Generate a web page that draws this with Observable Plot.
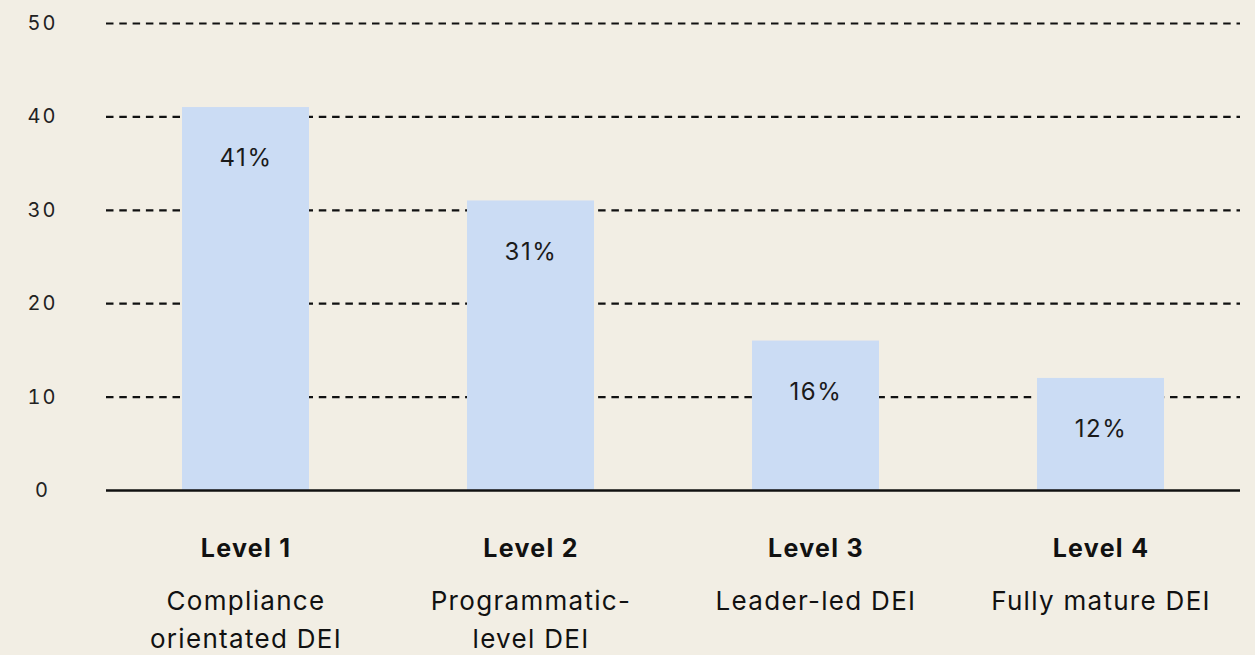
<!DOCTYPE html>
<html>
<head>
<meta charset="utf-8">
<script src="https://cdn.jsdelivr.net/npm/d3@7"></script>
<script src="https://cdn.jsdelivr.net/npm/@observablehq/plot@0.6"></script>
<style>
  html, body { margin: 0; padding: 0; background: #f2eee4; }
  #chart { width: 1255px; height: 655px; overflow: hidden; }
  #chart g[aria-label="y-axis tick label"] text { letter-spacing: 2px; }
  #chart g[aria-label="x-axis tick label"] text { letter-spacing: 1.3px; }
  #chart g[aria-label="text"] text { letter-spacing: 1.6px; }
</style>
</head>
<body>
<div id="chart"></div>
<script>
const levels = ["Level 1", "Level 2", "Level 3", "Level 4"];
const descriptions = ["Compliance\norientated DEI", "Programmatic-\nlevel DEI", "Leader-led DEI", "Fully mature DEI"];
const values = [41, 31, 16, 12];
const yTicks = [0, 10, 20, 30, 40, 50];
const gridTicks = [10, 20, 30, 40, 50];

const data = levels.map((l, i) => ({level: l, value: values[i], label: values[i] + "%"}));

const chart = Plot.plot({
  width: 1255,
  height: 655,
  marginLeft: 106,
  marginRight: 15,
  marginTop: 23,
  marginBottom: 165,
  style: {background: "#f2eee4", fontFamily: "Inter, sans-serif", color: "#1a1a1a"},
  x: {domain: levels, paddingInner: 0.554, paddingOuter: 0.265, label: null},
  y: {domain: [0, 50], label: null},
  marks: [
    Plot.ruleY(gridTicks, {stroke: "#111", strokeWidth: 2.2, strokeDasharray: "7.5,5.8"}),
    Plot.barY(data, {x: "level", y: "value", fill: "#cbdcf4"}),
    Plot.ruleY([0], {stroke: "#111", strokeWidth: 2.4}),
    Plot.text(data, {x: "level", y: "value", text: "label", dy: 51, fontSize: 24, fill: "#1a1a1a"}),
    Plot.axisY({ticks: yTicks, tickSize: 0, tickPadding: 64, textAnchor: "middle", fontSize: 20, label: null, fill: "#222"}),
    Plot.axisX({tickSize: 0, tickPadding: 49, fontSize: 25, fontWeight: "bold", label: null, fill: "#111"}),
    Plot.axisX({tickSize: 0, tickPadding: 93, fontSize: 26, lineHeight: 1.46, label: null, fill: "#111",
      tickFormat: d => descriptions[levels.indexOf(d)]})
  ]
});
document.getElementById("chart").appendChild(chart);
</script>
</body>
</html>
